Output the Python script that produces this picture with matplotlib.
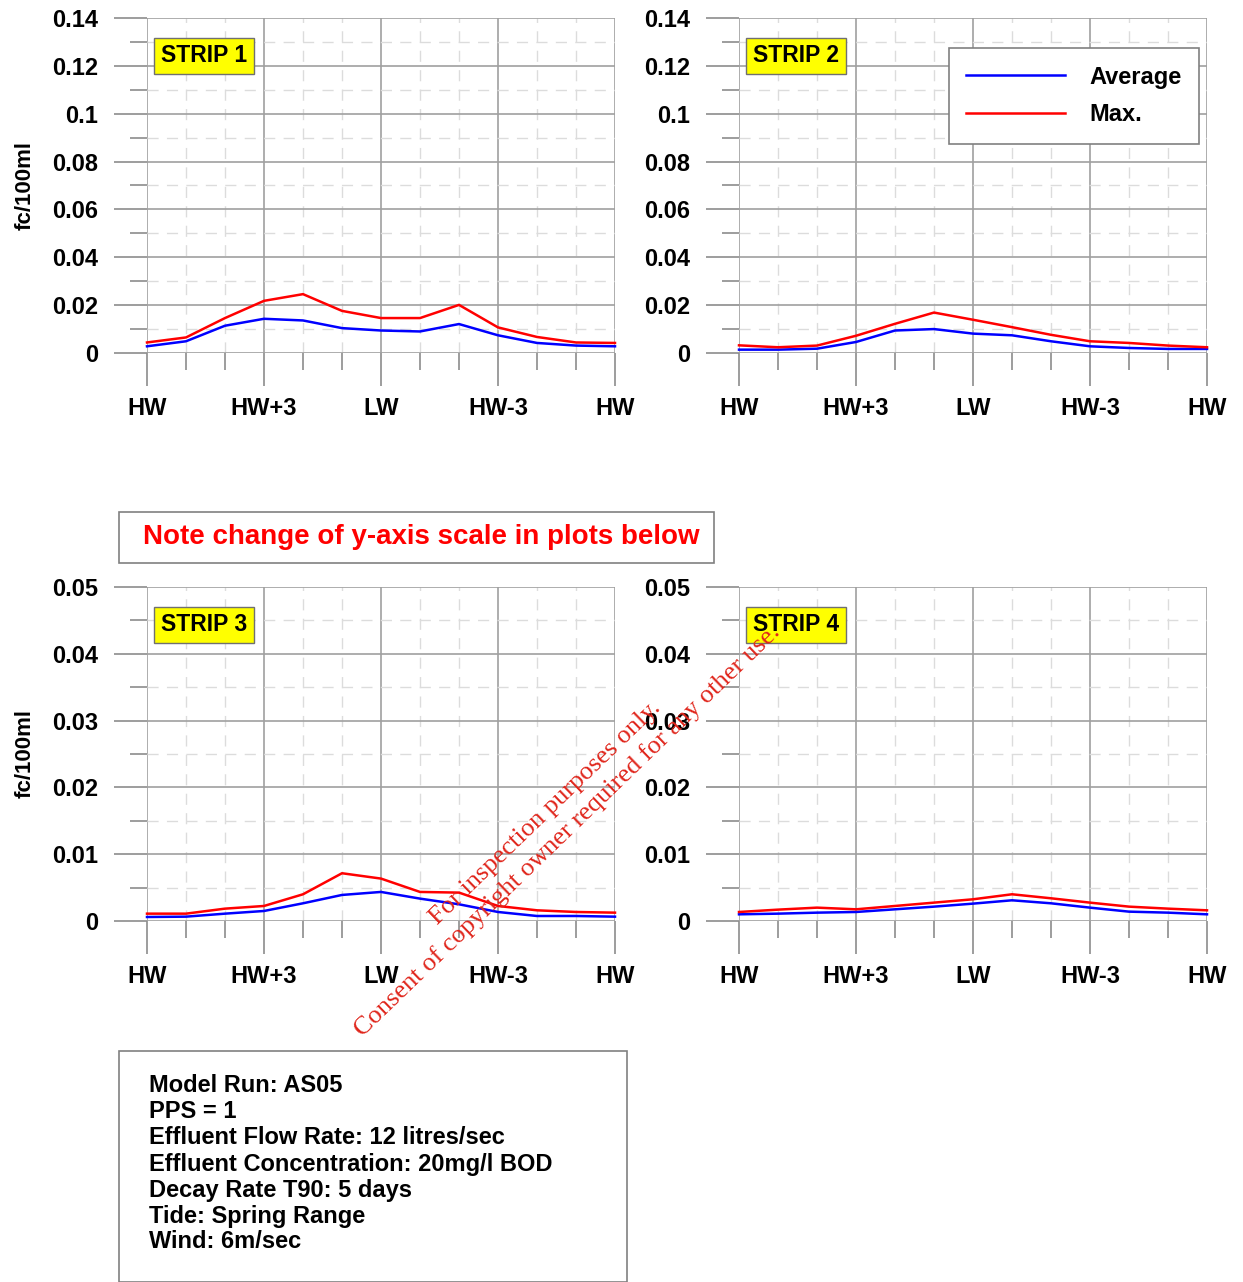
import numpy as np
import matplotlib
matplotlib.use('Agg')
import matplotlib.pyplot as plt
from matplotlib.lines import Line2D

plt.rcParams['font.family'] = ['Liberation Sans', 'DejaVu Sans']

# hours after high water
hours = np.arange(13)
tide_labels = ['HW', 'HW+3', 'LW', 'HW-3', 'HW']

# strip 1
s1_avg = [0.0028, 0.0049, 0.0114, 0.0143, 0.0136, 0.0104, 0.0094, 0.0090, 0.0121, 0.0074, 0.0042, 0.0031, 0.0028]
s1_max = [0.0044, 0.0065, 0.0146, 0.0218, 0.0246, 0.0176, 0.0146, 0.0146, 0.0201, 0.0107, 0.0067, 0.0044, 0.0042]
# strip 2
s2_avg = [0.0014, 0.0014, 0.0018, 0.0046, 0.0094, 0.0100, 0.0081, 0.0074, 0.0049, 0.0028, 0.0021, 0.0017, 0.0017]
s2_max = [0.0032, 0.0024, 0.0031, 0.0072, 0.0122, 0.0169, 0.0139, 0.0108, 0.0076, 0.0049, 0.0042, 0.0031, 0.0024]
# strip 3
s3_avg = [0.0006, 0.00065, 0.0011, 0.0015, 0.00265, 0.0039, 0.00435, 0.00335, 0.0025, 0.00135, 0.00075, 0.00075, 0.00065]
s3_max = [0.0011, 0.0011, 0.00185, 0.00225, 0.0040, 0.00715, 0.00635, 0.00435, 0.00425, 0.00225, 0.0016, 0.00135, 0.00125]
# strip 4
s4_avg = [0.0010, 0.0011, 0.00125, 0.00135, 0.00175, 0.00215, 0.0026, 0.0031, 0.00265, 0.0020, 0.0014, 0.00125, 0.0010]
s4_max = [0.00135, 0.0017, 0.0020, 0.00175, 0.00225, 0.00275, 0.00325, 0.0040, 0.0034, 0.00275, 0.00215, 0.00185, 0.0016]

info_lines = ['Model Run: AS05', 'PPS = 1', 'Effluent Flow Rate: 12 litres/sec',
              'Effluent Concentration: 20mg/l BOD', 'Decay Rate T90: 5 days',
              'Tide: Spring Range', 'Wind: 6m/sec']

W, H = 1243, 1282
fig = plt.figure(figsize=(W / 100, H / 100), dpi=100)


def px_rect(x0, y0, x1, y1):
    return [x0 / W, 1 - y1 / H, (x1 - x0) / W, (y1 - y0) / H]


def make_strip(rect, avg, mx, ymax, ystep, name, ylabel):
    ax = fig.add_axes(px_rect(*rect))
    ax.plot(hours, avg, color='#0000ff', lw=1.8, clip_on=False, zorder=5)
    ax.plot(hours, mx, color='#ff0000', lw=1.8, clip_on=False, zorder=5)
    ax.set_xlim(0, 12)
    ax.set_ylim(0, ymax)
    for s in ax.spines.values():
        s.set_visible(False)
    ax.set_xticks([0, 3, 6, 9, 12])
    ax.set_xticks(hours, minor=True)
    ax.set_xticklabels(tide_labels)
    yt = np.round(np.arange(0, ymax + ystep / 2, ystep), 4)
    ax.set_yticks(yt)
    ax.set_yticklabels(['%g' % v for v in yt])
    ax.set_yticks(np.round(np.arange(ystep / 2, ymax, ystep), 4), minor=True)
    ax.tick_params(axis='both', which='major', length=24, width=1.2, color='#8c8c8c',
                   labelsize=17)
    ax.tick_params(axis='both', which='minor', length=12, width=1.2, color='#8c8c8c')
    ax.tick_params(axis='y', which='major', pad=11)
    ax.tick_params(axis='x', which='major', pad=8)
    for lab in ax.get_xticklabels() + ax.get_yticklabels():
        lab.set_fontweight('bold')
    ax.grid(True, which='major', color='#a0a0a0', lw=1.2)
    ax.grid(True, which='minor', color='#dcdcdc', lw=1.0, ls=(0, (8, 6)))
    ax.set_axisbelow(True)
    ax.text(14 / 468, 1 - 38 / 335, name, transform=ax.transAxes, ha='left', va='center',
            fontsize=16.5, fontweight='bold', zorder=6,
            bbox=dict(boxstyle='square,pad=0.3', fc='#ffff00', ec='#707070', lw=1))
    if ylabel:
        fig.text(25 / W, 1 - ((rect[1] + rect[3]) / 2) / H, 'fc/100ml', rotation=90,
                 ha='center', va='center', fontsize=16, fontweight='bold')
    return ax


make_strip((147, 18, 615, 353), s1_avg, s1_max, 0.14, 0.02, 'STRIP 1', True)
ax2 = make_strip((739, 18, 1207, 353), s2_avg, s2_max, 0.14, 0.02, 'STRIP 2', False)
make_strip((147, 587, 615, 921), s3_avg, s3_max, 0.05, 0.01, 'STRIP 3', True)
make_strip((739, 587, 1207, 921), s4_avg, s4_max, 0.05, 0.01, 'STRIP 4', False)

handles = [Line2D([], [], color='#0000ff', lw=1.8), Line2D([], [], color='#ff0000', lw=1.8)]
leg = ax2.legend(handles, ['Average', 'Max.'], loc='upper right',
                 bbox_to_anchor=(1199 / W, 1 - 48 / H), bbox_transform=fig.transFigure,
                 fancybox=False, framealpha=1, edgecolor='#808080', handlelength=4.2,
                 prop={'weight': 'bold', 'size': 17}, borderpad=0.75, labelspacing=0.6,
                 handletextpad=1.0, borderaxespad=0)
leg.get_frame().set_linewidth(1.2)

# note box
fig.patches.append(plt.Rectangle((119 / W, 1 - 563 / H), (714 - 119) / W, 51 / H,
                                 transform=fig.transFigure, fill=False, ec='#808080', lw=1.2))
fig.text(143 / W, 1 - 537 / H, 'Note change of y-axis scale in plots below', color='#ff0000',
         fontsize=20, fontweight='bold', ha='left', va='center')

# info box
fig.patches.append(plt.Rectangle((119 / W, 0), (627 - 119) / W, (H - 1051) / H,
                                 transform=fig.transFigure, fill=False, ec='#808080', lw=1.2))
for i, line in enumerate(info_lines):
    fig.text(149 / W, 1 - (1086 + 26 * i) / H, line, fontsize=17, fontweight='bold',
             ha='left', va='center')

# watermark
wm_font = ['Liberation Serif', 'DejaVu Serif']
fig.text(438 / W, 1 - 925 / H, 'For inspection purposes only.', rotation=44,
         rotation_mode='anchor', ha='left', va='baseline', color='#e0261c', fontsize=19,
         family=wm_font, zorder=10)
fig.text(363 / W, 1 - 1037 / H, 'Consent of copyright owner required for any other use.',
         rotation=44, rotation_mode='anchor', ha='left', va='baseline', color='#e0261c',
         fontsize=19, family=wm_font, zorder=10)

fig.savefig('out.png', dpi=100)
